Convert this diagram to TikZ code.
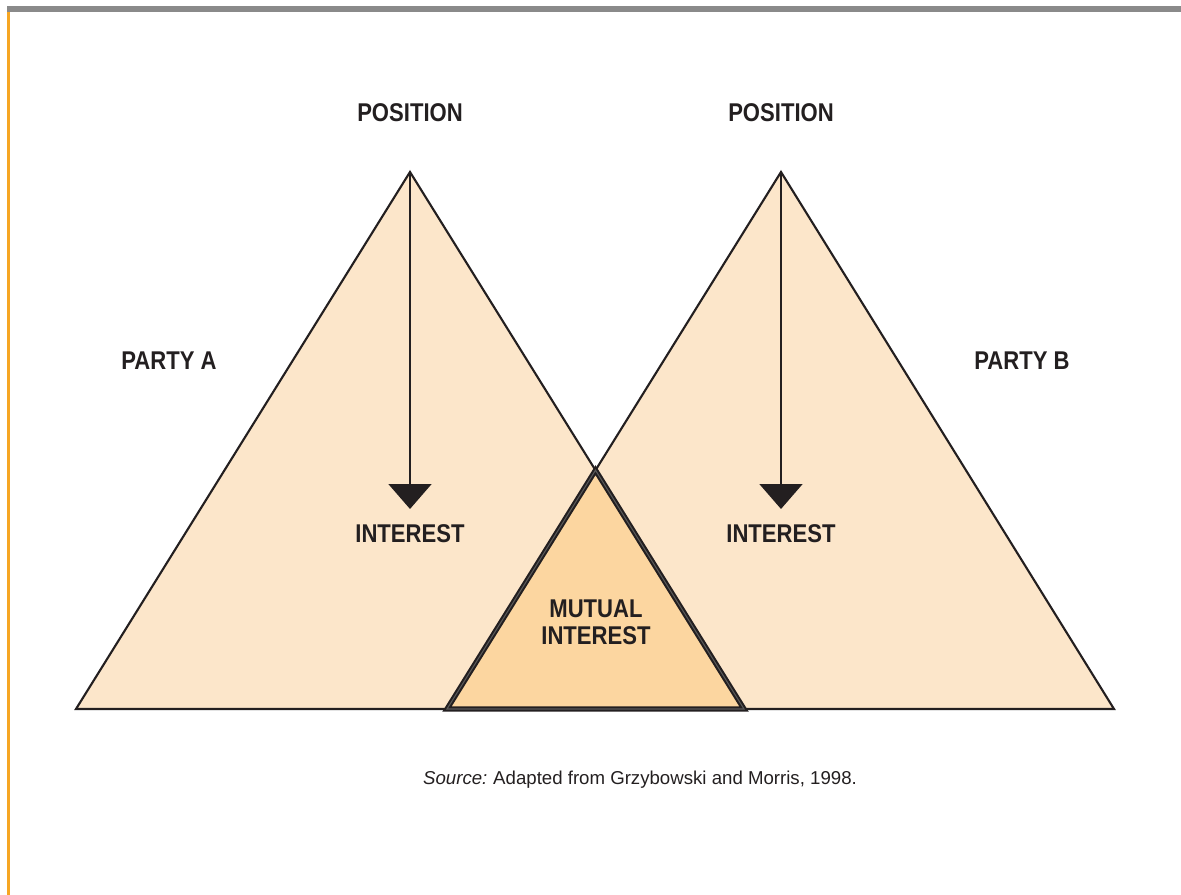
\documentclass[tikz,border=0pt]{standalone}
\usepackage{fontspec}
\setmainfont{Liberation Sans}
\newfontfamily\condsans{Liberation Sans}[FakeStretch=0.86]
\usetikzlibrary{positioning, arrows.meta}

\definecolor{peach}{HTML}{FCE6CA}
\definecolor{mutualfill}{HTML}{FCD6A0}
\definecolor{ruleorange}{HTML}{F6A623}
\definecolor{rulegray}{HTML}{8A8A8A}
\definecolor{ink}{HTML}{231F20}

\tikzset{
    party/.style={fill=peach, draw=ink, line width=0.6pt, line join=miter},
    mutual/.style={fill=mutualfill, draw=ink, line width=0.6pt, double=black!65, double distance=0.3pt, line join=miter},
    stem/.style={draw=ink, line width=0.6pt},
    heading/.style={font=\condsans\bfseries\fontsize{7.3}{7.7}\selectfont, text=ink, inner sep=0pt, align=center},
    source/.style={font=\fontsize{5.3}{6.2}\selectfont, text=ink, inner sep=0pt}
}

\begin{document}
\begin{tikzpicture}[x=0.01cm, y=-0.01cm, >={Triangle[length=7.1pt, width=12.2pt]}]
    % Frame
    \useasboundingbox (0,0) rectangle (1181,895);
    \fill[rulegray] (7,6) rectangle (1181,12);
    \fill[ruleorange] (7,12) rectangle (10,895);

    % Corners of the triangles
    \coordinate (apexA) at (410,172);
    \coordinate (apexB) at (781,172);
    \coordinate (leftA) at (76,709);
    \coordinate (rightA) at (744,709);
    \coordinate (leftB) at (447,709);
    \coordinate (rightB) at (1114,709);
    \coordinate (meet) at (intersection of apexA--rightA and apexB--leftB);

    % Triangles
    \filldraw[party] (apexA) -- (rightA) -- (leftA) -- cycle;
    \filldraw[party] (apexB) -- (rightB) -- (leftB) -- cycle;
    \filldraw[mutual] (meet) -- (rightA) -- (leftB) -- cycle;

    % Arrows from position down to interest
    \coordinate (tipA) at (410,509);
    \coordinate (tipB) at (781,509);
    \draw[stem, ->] (apexA) -- (tipA);
    \draw[stem, ->] (apexB) -- (tipB);

    % Labels
    \node[heading] (posA) [above=14pt of apexA] {POSITION};
    \node[heading] (posB) [above=14pt of apexB] {POSITION};
    \node[heading] (intA) [below=4.3pt of tipA] {INTEREST};
    \node[heading] (intB) [below=4.3pt of tipB] {INTEREST};
    \node[heading] (partyA) at (169,361) {PARTY A};
    \node[heading] (partyB) at (1022,361) {PARTY B};
    \node[heading] (mutualint) at (596,622) {MUTUAL\\INTEREST};

    % Source line
    \node[source] (src) at (640,780) {\textit{Source:}\hspace{-0.3pt} Adapted from Grzybowski and Morris, 1998.};
\end{tikzpicture}
\end{document}
